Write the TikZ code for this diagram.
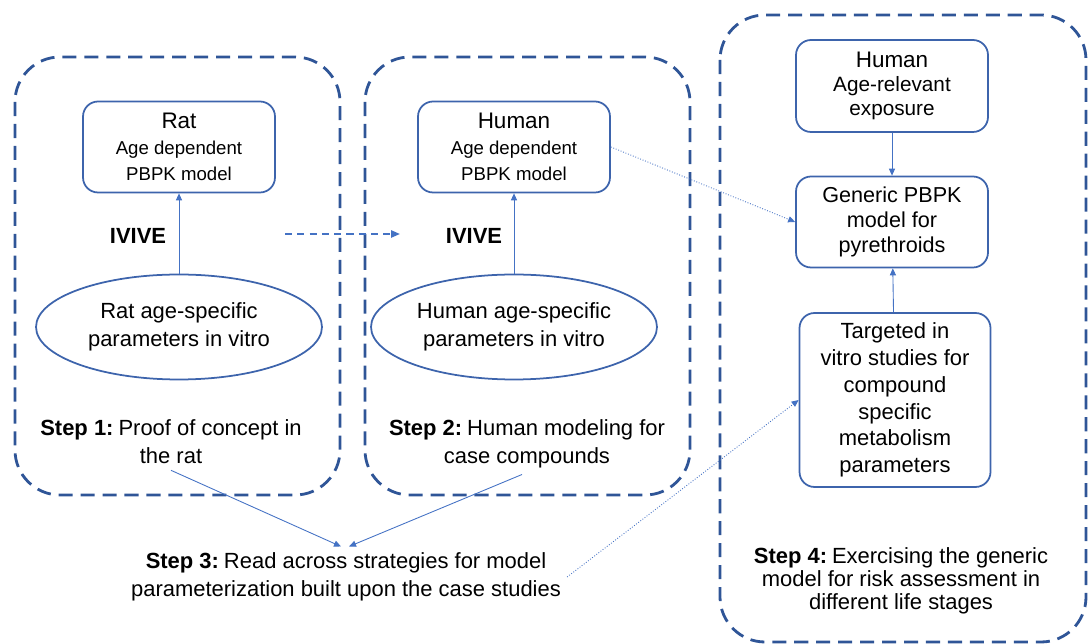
\documentclass[tikz,border=0pt]{standalone}
\usepackage{fontspec}
\setmainfont{Liberation Sans}
\usetikzlibrary{shapes.geometric,arrows.meta}

\definecolor{frameblue}{HTML}{2F5597}
\definecolor{boxblue}{HTML}{3D64AC}
\definecolor{linkblue}{HTML}{4472C4}

\newcommand{\steplabel}[1]{\textbf{Step #1:}\kern-0.05em\ }

\tikzset{
  stepframe/.style={draw=frameblue,line width=1.6pt,dash pattern=on 8pt off 4.5pt,rounded corners=0.9cm},
  modelbox/.style={draw=boxblue,line width=1pt,rounded corners=0.3cm,align=center,
    minimum width=3.84cm,font=\fontsize{10.6}{14.6}\selectfont},
  sidebox/.style={modelbox,font=\fontsize{12.3}{14}\selectfont},
  parellipse/.style={draw=boxblue,line width=1pt,ellipse,align=center,inner sep=0pt,
    minimum width=5.72cm,minimum height=2.1cm,font=\fontsize{12.5}{16}\selectfont},
  steptext/.style={align=center,font=\fontsize{12.5}{16}\selectfont},
  link/.style={draw=linkblue,line width=0.5pt,-{Triangle[length=4pt,width=3.5pt]}},
  dotlink/.style={link,densely dotted},
  dashlink/.style={draw=linkblue,line width=1.1pt,dash pattern=on 4pt off 3pt,
    -{Triangle[length=5pt,width=4pt]}}
}

\begin{document}
\begin{tikzpicture}[x=0.02cm,y=-0.02cm]
    \useasboundingbox (0,0) rectangle (1088,644);
    \clip (0,0) rectangle (1088,644);

    % Step frames
    \draw[stepframe] (15,57) rectangle (340,495);
    \draw[stepframe] (365,57) rectangle (690,495);
    \draw[stepframe] (720,15) rectangle (1086,642);

    % Step 1: rat
    \node[modelbox,minimum height=1.82cm] (rat) at (179,147)
        {{\fontsize{12.8}{14.6}\selectfont Rat}\\Age dependent\\PBPK model};
    \node[parellipse] (ratpar) at (179,327) {Rat age-specific\\parameters in vitro};
    \node[font=\fontsize{12.5}{15}\selectfont\bfseries] (ivive1) at (138,236) {IVIVE};
    \node[steptext] (step1) at (171,442) {\steplabel{1}Proof of concept in\\the rat};
    \draw[link] (ratpar) -- (rat);

    % Step 2: human
    \node[modelbox,minimum height=1.82cm] (human) at (514,147)
        {{\fontsize{12.8}{14.6}\selectfont Human}\\Age dependent\\PBPK model};
    \node[parellipse] (humpar) at (514,327) {Human age-specific\\parameters in vitro};
    \node[font=\fontsize{12.5}{15}\selectfont\bfseries] (ivive2) at (474,236) {IVIVE};
    \node[steptext] (step2) at (527,444) {\steplabel{2}Human modeling for\\case compounds};
    \draw[link] (humpar) -- (human);

    % rat to human
    \coordinate (carry1) at (285,234);
    \coordinate (carry2) at (400,234);
    \draw[dashlink] (carry1) -- (carry2);

    % Step 3: read across
    \node[steptext] (step3) at (346,577)
        {\steplabel{3}Read across strategies for model\\parameterization built upon the case studies};
    \draw[link] (step1.south) -- ([xshift=-0.1cm]step3.north);
    \draw[link] ([xshift=-0.1cm]step2.south) -- ([xshift=0.06cm]step3.north);

    % Step 4: generic model
    \node[sidebox,minimum height=1.84cm,font=\fontsize{11.8}{13.6}\selectfont] (expo) at (892,86)
        {{\fontsize{12.8}{13.6}\selectfont Human}\\Age-relevant\\exposure};
    \node[sidebox,minimum height=1.82cm] (generic) at (892,222)
        {Generic PBPK\\model for\\pyrethroids};
    \node[sidebox,minimum height=3.48cm,minimum width=3.82cm,font=\fontsize{12.5}{15.3}\selectfont] (target) at (895,400)
        {Targeted in\\vitro studies for\\compound\\specific\\metabolism\\parameters};
    \node[steptext,font=\fontsize{12.5}{13.2}\selectfont] (step4) at (901,581)
        {\steplabel{4}Exercising the generic\\model for risk assessment in\\different life stages};
    \draw[link] (expo) -- (generic);
    \draw[link] (target) -- (generic);

    % links into step 4
    \draw[dotlink] (human.east) -- (generic.west);
    \draw[dotlink] (step3.east) -- (target.west);
\end{tikzpicture}
\end{document}
